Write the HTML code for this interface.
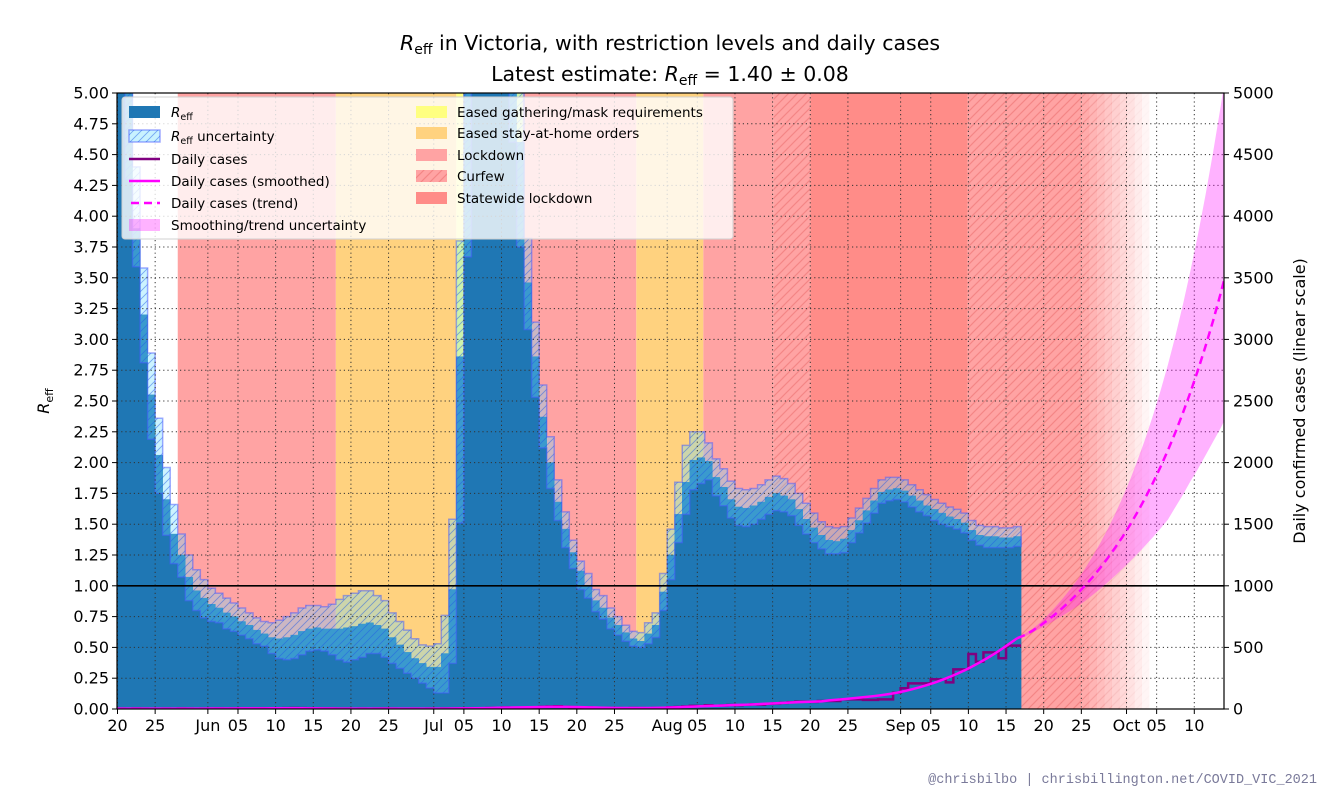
<!DOCTYPE html>
<html><head><meta charset="utf-8"><style>
html,body{margin:0;padding:0;background:#fff;}
svg{display:block;font-family:"DejaVu Sans","Liberation Sans",sans-serif;}
</style></head><body>
<svg id="chart" width="1330" height="798" viewBox="0 0 1330 798" xmlns="http://www.w3.org/2000/svg">
<defs>
<clipPath id="plotclip"><rect x="117" y="93" width="1107" height="616"/></clipPath>
<pattern id="hatchU" patternUnits="userSpaceOnUse" width="8" height="8">
<path d="M-2,10 L10,-2 M-2,2 L2,-2 M6,10 L10,6" stroke="rgba(30,90,230,0.5)" stroke-width="0.9"/>
</pattern>
<pattern id="hatchC" patternUnits="userSpaceOnUse" width="9" height="9">
<path d="M-2,11 L11,-2 M-2,2 L2,-2 M7,11 L11,7" stroke="rgba(235,110,110,0.55)" stroke-width="1.2"/>
</pattern>
</defs>
<g id="title">
<text x="670" y="50" text-anchor="middle" font-size="20.5" fill="#000"><tspan font-style="italic">R</tspan><tspan font-size="14" dy="4">eff</tspan><tspan dy="-4"> in Victoria, with restriction levels and daily cases</tspan></text>
<text x="670" y="81" text-anchor="middle" font-size="20.5" fill="#000">Latest estimate: <tspan font-style="italic">R</tspan><tspan font-size="14" dy="4">eff</tspan><tspan dy="-4"> = 1.40 ± 0.08</tspan></text>
</g>
<g id="bg" clip-path="url(#plotclip)"></g>
<g id="bars" clip-path="url(#plotclip)"></g>
<g id="grid" clip-path="url(#plotclip)"></g>
<g id="cases" clip-path="url(#plotclip)"></g>
<g id="axes"></g>
<g id="legend"></g>
<text x="1317" y="783" text-anchor="end" font-family="Liberation Mono,DejaVu Sans Mono,monospace" font-size="13.5" fill="#7a7a9a">@chrisbilbo | chrisbillington.net/COVID_VIC_2021</text>
</svg>
<script>
// ---- data (days since 20 May) ----
const rMid = [6,5.2,3.9,3.2,2.55,2.06,1.70,1.42,1.25,1.07,
0.96,0.90,0.85,0.82,0.78,0.75,0.71,0.68,0.64,0.61,
0.58,0.57,0.58,0.60,0.63,0.65,0.66,0.65,0.65,0.65,
0.66,0.67,0.69,0.70,0.68,0.65,0.58,0.52,0.46,0.41,
0.37,0.34,0.34,0.45,0.97,2.86,5.2,6,6,6,
6,6,5.2,4.6,3.46,2.86,2.37,2.0,1.68,1.46,
1.27,1.12,1.0,0.88,0.82,0.74,0.68,0.62,0.57,0.55,
0.61,0.68,0.95,1.25,1.58,1.84,2.02,2.04,2.01,1.88,
1.80,1.70,1.64,1.63,1.65,1.68,1.72,1.75,1.73,1.70,
1.62,1.54,1.47,1.41,1.37,1.36,1.38,1.45,1.53,1.61,
1.69,1.76,1.78,1.79,1.77,1.73,1.69,1.65,1.62,1.59,
1.56,1.54,1.51,1.45,1.41,1.40,1.40,1.39,1.39,1.40];
const rUpper = [6,6,4.4,3.58,2.89,2.36,1.96,1.66,1.42,1.25,
1.13,1.05,0.98,0.94,0.90,0.86,0.82,0.78,0.74,0.71,
0.70,0.72,0.75,0.78,0.82,0.84,0.84,0.83,0.85,0.89,
0.92,0.94,0.96,0.96,0.92,0.88,0.78,0.71,0.64,0.57,
0.52,0.51,0.53,0.76,1.54,3.8,6,6,6,6,
6,6,6,6,3.82,3.14,2.63,2.21,1.86,1.60,
1.37,1.20,1.10,0.97,0.92,0.82,0.75,0.68,0.63,0.62,
0.70,0.78,1.10,1.46,1.84,2.14,2.25,2.25,2.16,2.03,
1.95,1.85,1.79,1.78,1.79,1.82,1.86,1.89,1.87,1.83,
1.75,1.67,1.59,1.52,1.48,1.47,1.48,1.55,1.63,1.71,
1.79,1.86,1.88,1.88,1.86,1.82,1.78,1.74,1.70,1.67,
1.64,1.62,1.59,1.53,1.49,1.48,1.48,1.47,1.47,1.48];
const rLower = [5.2,4.3,3.59,2.81,2.19,1.75,1.41,1.18,1.07,0.88,
0.80,0.74,0.71,0.70,0.65,0.63,0.60,0.57,0.53,0.51,
0.45,0.41,0.40,0.41,0.44,0.47,0.48,0.47,0.44,0.40,
0.38,0.40,0.42,0.45,0.45,0.42,0.37,0.33,0.29,0.25,
0.21,0.17,0.13,0.13,0.37,1.51,3.67,5.5,5.5,5.5,
5.5,5.2,4.6,3.75,3.08,2.53,2.12,1.79,1.53,1.31,
1.14,0.97,0.90,0.79,0.73,0.65,0.60,0.55,0.51,0.50,
0.53,0.58,0.80,1.05,1.35,1.58,1.78,1.83,1.86,1.73,
1.65,1.55,1.49,1.48,1.50,1.54,1.58,1.61,1.60,1.57,
1.49,1.42,1.35,1.30,1.26,1.26,1.27,1.35,1.43,1.51,
1.59,1.67,1.69,1.70,1.68,1.64,1.60,1.57,1.53,1.50,
1.48,1.46,1.43,1.37,1.33,1.31,1.31,1.31,1.31,1.32];
const dailyCases = [3,2,4,3,2,2,3,2,4,3,
2,3,3,4,3,4,5,4,5,6,
5,6,7,8,7,6,5,4,4,3,
3,2,3,2,3,4,3,2,2,3,
2,3,2,4,3,4,6,5,4,8,
10,12,9,8,11,14,18,20,22,18,
15,14,12,10,9,8,7,6,8,7,
6,8,10,14,16,20,25,24,30,26,
28,32,30,35,38,36,42,45,50,55,
60,60,58,65,65,65,78,78,78,74,
74,78,78,132,168,208,208,208,241,241,
216,322,322,446,384,460,460,412,514,514];
const smoothedCases = [3,3,3,3,3,3,3,3,3,3,
3,3,4,4,4,4,5,5,5,5,
6,6,6,6,6,5,5,4,4,3,
3,3,3,3,3,3,3,3,3,3,
3,3,3,3,4,5,5,6,7,8,
10,11,12,13,14,15,16,17,17,17,
16,15,13,12,10,9,8,8,8,8,
8,9,10,12,14,17,19,22,24,26,
28,31,33,35,38,41,44,47,50,53,
56,58,60,62,70,75,80,86,92,98,
105,113,122,132,145,160,176,194,214,236,
260,286,314,345,378,413,450,490,532,575];
const trendStartDay = 119;
const trendCases = [575,600,635,675,720,768,820,877,938,1002,1070,1145,1225,1310,1400,1498,1603,1715,1835,1963,2100,2247,2405,2573,2753,2946,3152,3373,3609];
const trendHi = [585,612,650,700,760,825,895,970,1050,1140,1240,1345,1460,1585,1720,1865,2025,2195,2380,2580,2795,3030,3285,3560,3855,4175,4520,4890,5290];
const trendLo = [565,588,620,652,685,720,757,795,835,877,925,975,1028,1083,1140,1200,1262,1327,1394,1464,1537,1640,1740,1850,1950,2060,2170,2280,2400];
// restriction periods [startDay, endDay]
const bandNames = ["lockdown-1","eased-stay-at-home-1","eased-gathering","lockdown-2","eased-stay-at-home-2","lockdown-3","curfew-1","statewide-lockdown","curfew-2"];
const bandStarts = [8,29,45,53.8,68.9,77.8,87.1,92,112.9];
const bandEnds = [29,45,53.8,68.9,77.8,87.1,92,112.9,128];
const bandKinds = ["lockdown","stay","gather","lockdown","stay","lockdown","curfew","statewide","curfew"];
const fadeAlphas = [0.9,0.8,0.7,0.6,0.5,0.4,0.3,0.2,0.1];
const xTickDays = [0,5,12,16,21,26,31,36,42,46,51,56,61,66,73,77,82,87,92,97,104,108,113,118,123,128,134,138,143];
const xTickLabels = ["20","25","Jun","05","10","15","20","25","Jul","05","10","15","20","25","Aug","05","10","15","20","25","Sep","05","10","15","20","25","Oct","05","10"];
const yTickValues = [0,0.25,0.5,0.75,1,1.25,1.5,1.75,2,2.25,2.5,2.75,3,3.25,3.5,3.75,4,4.25,4.5,4.75,5];
const rightTickValues = [0,500,1000,1500,2000,2500,3000,3500,4000,4500,5000];

// ---- scales ----
const NS="http://www.w3.org/2000/svg";
const X0=117.5, PX=7.53, PL=117, PR=1224, PT=93, PB=709;
function x(d){return X0+PX*d;}
function yR(r){return PB-Math.min(r,5.3)*123.2;}
function yC(c){return PB-Math.min(c,5300)*0.1232;}
function el(tag,attrs,parent){const e=document.createElementNS(NS,tag);for(const k in attrs)e.setAttribute(k,attrs[k]);parent.appendChild(e);return e;}

// ---- background bands ----
const bg=document.getElementById('bg');
const kindColor={lockdown:"#ffa3a3",stay:"#ffd27f",gather:"#ffff80",curfew:"#ffa3a3",statewide:"#ff8c88"};
for(let i=0;i<bandStarts.length;i++){
  const r=el('rect',{x:x(bandStarts[i]),y:PT,width:x(bandEnds[i])-x(bandStarts[i]),height:PB-PT,fill:kindColor[bandKinds[i]]},bg);
  
  
  if(bandKinds[i]==="curfew"){
    const h=el('rect',{x:x(bandStarts[i]),y:PT,width:x(bandEnds[i])-x(bandStarts[i]),height:PB-PT,fill:"url(#hatchC)"},bg);
    
    
  }
}
for(let i=0;i<fadeAlphas.length;i++){
  const g=el('g',{opacity:fadeAlphas[i]},bg);
  
  
  el('rect',{x:x(128+i),y:PT,width:PX+0.3,height:PB-PT,fill:"#ffa3a3"},g);
  el('rect',{x:x(128+i),y:PT,width:PX+0.3,height:PB-PT,fill:"url(#hatchC)"},g);
}

// ---- R_eff bars ----
const bars=document.getElementById('bars');
let d="M"+x(0)+","+PB;
for(let k=0;k<rMid.length;k++){d+=" L"+x(k)+","+yR(rMid[k])+" L"+x(k+1)+","+yR(rMid[k]);}
d+=" L"+x(rMid.length)+","+PB+" Z";
const reff=el('path',{d:d,fill:"#1f77b4",stroke:"#1f77b4","stroke-width":"0.5"},bars);


let u="M"+x(0)+","+yR(rUpper[0]);
for(let k=0;k<rUpper.length;k++){u+=" L"+x(k)+","+yR(rUpper[k])+" L"+x(k+1)+","+yR(rUpper[k]);}
for(let k=rLower.length-1;k>=0;k--){u+=" L"+x(k+1)+","+yR(rLower[k])+" L"+x(k)+","+yR(rLower[k]);}
u+=" Z";
const unc=el('path',{d:u,fill:"rgba(110,220,255,0.35)",stroke:"none"},bars);


const unch=el('path',{d:u,fill:"url(#hatchU)",stroke:"rgba(70,90,255,0.5)","stroke-width":"1.5"},bars);



// ---- grid ----
const grid=document.getElementById('grid');
for(const t of xTickDays){
  const l=el('line',{x1:x(t),x2:x(t),y1:PT,y2:PB,stroke:"#333","stroke-width":"1","stroke-dasharray":"1.2,3"},grid);
  
  
}
for(const v of yTickValues){
  const l=el('line',{x1:PL,x2:PR,y1:yR(v),y2:yR(v),stroke:"#333","stroke-width":"1","stroke-dasharray":"1.2,3"},grid);
  
  
}
const one=el('line',{x1:PL,x2:PR,y1:yR(1),y2:yR(1),stroke:"#000","stroke-width":"1.6"},grid);



// ---- cases ----
const cases=document.getElementById('cases');
let bp="M"+x(trendStartDay+0.5)+","+yC(trendHi[0]);
for(let i=0;i<trendHi.length;i++)bp+=" L"+x(trendStartDay+0.5+i)+","+yC(trendHi[i]);
for(let i=trendLo.length-1;i>=0;i--)bp+=" L"+x(trendStartDay+0.5+i)+","+yC(trendLo[i]);
bp+=" Z";
const band=el('path',{d:bp,fill:"rgba(255,0,255,0.3)",stroke:"none"},cases);


let cp="M"+x(0)+","+yC(dailyCases[0]);
for(let k=0;k<dailyCases.length;k++)cp+=" L"+x(k)+","+yC(dailyCases[k])+" L"+x(k+1)+","+yC(dailyCases[k]);
const dc=el('path',{d:cp,fill:"none",stroke:"#800080","stroke-width":"2.5"},cases);


let sp="M"+x(0)+","+yC(smoothedCases[0]);
for(let k=0;k<smoothedCases.length;k++)sp+=" L"+x(k+0.5)+","+yC(smoothedCases[k]);
const sm=el('path',{d:sp,fill:"none",stroke:"#ff00ff","stroke-width":"2.5"},cases);


let tp="M"+x(trendStartDay+0.5)+","+yC(trendCases[0]);
for(let i=1;i<trendCases.length;i++)tp+=" L"+x(trendStartDay+0.5+i)+","+yC(trendCases[i]);
const tr=el('path',{d:tp,fill:"none",stroke:"#ff00ff","stroke-width":"2.5","stroke-dasharray":"8,5"},cases);



// ---- axes ----
const axes=document.getElementById('axes');
const frame=el('rect',{x:PL,y:PT,width:PR-PL,height:PB-PT,fill:"none",stroke:"#000","stroke-width":"1.2"},axes);


for(let i=0;i<xTickDays.length;i++){
  const xx=x(xTickDays[i]);
  el('line',{x1:xx,x2:xx,y1:PB,y2:PB+5,stroke:"#000","stroke-width":"1"},axes);
  const t=el('text',{x:xx,y:PB+22,"text-anchor":"middle","font-size":"16",fill:"#000"},axes);
  t.textContent=xTickLabels[i];
  
  
}
for(const v of yTickValues){
  const yy=yR(v);
  el('line',{x1:PL-5,x2:PL,y1:yy,y2:yy,stroke:"#000","stroke-width":"1"},axes);
  const t=el('text',{x:PL-8,y:yy+5.5,"text-anchor":"end","font-size":"16",fill:"#000"},axes);
  t.textContent=v.toFixed(2);
  
  
}
for(const v of rightTickValues){
  const yy=yC(v);
  el('line',{x1:PR,x2:PR+5,y1:yy,y2:yy,stroke:"#000","stroke-width":"1"},axes);
  const t=el('text',{x:PR+9,y:yy+5.5,"text-anchor":"start","font-size":"16",fill:"#000"},axes);
  t.textContent=String(v);
  
  
}
const yl=el('text',{x:0,y:0,"text-anchor":"middle","font-size":"16",transform:"translate(49,401) rotate(-90)"},axes);
yl.innerHTML='<tspan font-style="italic">R</tspan><tspan font-size="11" dy="4">eff</tspan>';


const rl=el('text',{x:0,y:0,"text-anchor":"middle","font-size":"16",transform:"translate(1305,401) rotate(-90)"},axes);
rl.textContent="Daily confirmed cases (linear scale)";



// ---- legend ----
const lg=document.getElementById('legend');
const box=el('rect',{x:122,y:97,width:611,height:142,rx:3,fill:"rgba(255,255,255,0.8)",stroke:"#d0d0d0","stroke-width":"1"},lg);


function entry(yy,tx,label,handle,name){
  const g=el('g',{},lg);
  
  
  handle(g,yy);
  const t=el('text',{x:tx,y:yy+5,"font-size":"13.5",fill:"#000"},g);
  t.innerHTML=label;
}
const RE='<tspan font-style="italic">R</tspan><tspan font-size="9.5" dy="3">eff</tspan>';
entry(112,171,RE,(g,y)=>{el('rect',{x:129,y:y-6,width:31,height:12,fill:"#1f77b4"},g);},'legend-entry-reff');
entry(136,171,RE+'<tspan dy="-3"> uncertainty</tspan>',(g,y)=>{el('rect',{x:129,y:y-6,width:31,height:12,fill:"#c8f2ff",stroke:"rgba(70,90,255,0.5)","stroke-width":"1.5"},g);el('rect',{x:129,y:y-6,width:31,height:12,fill:"url(#hatchU)"},g);},'legend-entry-reff-uncertainty');
entry(159,171,'Daily cases',(g,y)=>{el('line',{x1:129,x2:160,y1:y,y2:y,stroke:"#800080","stroke-width":"2.5"},g);},'legend-entry-daily-cases');
entry(181,171,'Daily cases (smoothed)',(g,y)=>{el('line',{x1:129,x2:160,y1:y,y2:y,stroke:"#ff00ff","stroke-width":"2.5"},g);},'legend-entry-smoothed');
entry(203,171,'Daily cases (trend)',(g,y)=>{el('line',{x1:131,x2:160,y1:y,y2:y,stroke:"#ff00ff","stroke-width":"2.5","stroke-dasharray":"8,5"},g);},'legend-entry-trend');
entry(225,171,'Smoothing/trend uncertainty',(g,y)=>{el('rect',{x:129,y:y-6,width:31,height:12,fill:"rgba(255,0,255,0.3)"},g);},'legend-entry-trend-uncertainty');
const rc=[["#ffff80","Eased gathering/mask requirements",112,false,'legend-entry-eased-gathering'],["#ffd27f","Eased stay-at-home orders",133,false,'legend-entry-eased-stay-at-home'],["#ffa3a3","Lockdown",155,false,'legend-entry-lockdown'],["#ffa3a3","Curfew",176,true,'legend-entry-curfew'],["#ff8c88","Statewide lockdown",198,false,'legend-entry-statewide-lockdown']];
for(const c of rc){
  entry(c[2],457,c[1],(g,y)=>{el('rect',{x:416,y:y-6,width:31,height:12,fill:c[0]},g);if(c[3])el('rect',{x:416,y:y-6,width:31,height:12,fill:"url(#hatchC)"},g);},c[4]);
}
</script>
</body></html>
